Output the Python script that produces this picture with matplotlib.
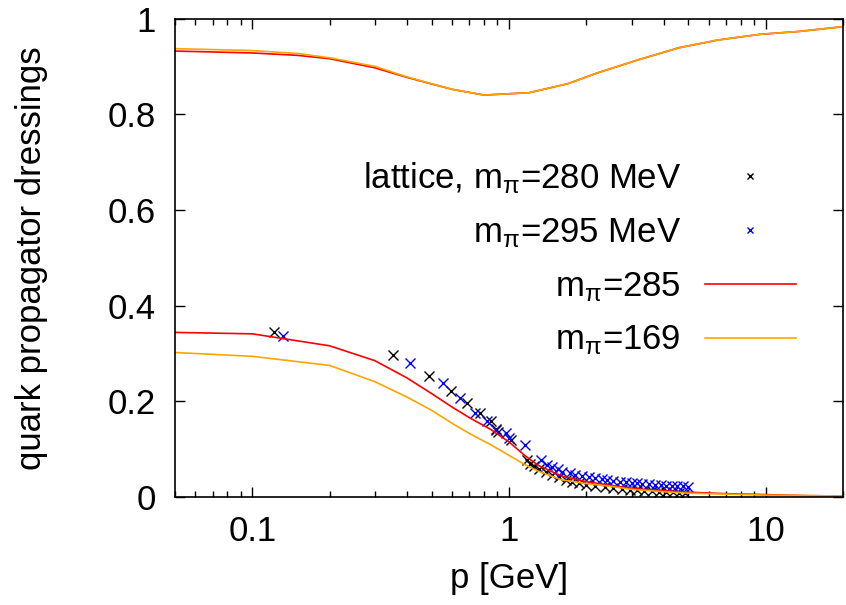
import numpy as np
import matplotlib
matplotlib.use('Agg')
import matplotlib.pyplot as plt
from matplotlib.ticker import LogLocator, FixedLocator, NullFormatter

# ---- data ----
# lattice data
p_lat280 = [0.121, 0.354, 0.489, 0.594, 0.683, 0.769, 0.849, 0.893, 0.909, 1.015,
            1.178, 1.203, 1.25, 1.31, 1.39, 1.47, 1.56, 1.66, 1.76, 1.87, 1.99,
            2.17, 2.37, 2.55, 2.75, 2.95, 3.15, 3.35, 3.6, 3.85, 4.1, 4.35, 4.6, 4.85]
z_lat280 = [0.344, 0.297, 0.253, 0.222, 0.196, 0.176, 0.158, 0.142, 0.135, 0.119,
            0.077, 0.069, 0.064, 0.058, 0.052, 0.046, 0.042, 0.036, 0.032, 0.029, 0.026,
            0.022, 0.020, 0.018, 0.016, 0.015, 0.014, 0.013, 0.012, 0.011, 0.010, 0.010, 0.009, 0.009]

p_lat295 = [0.132, 0.412, 0.552, 0.645, 0.74, 0.82, 0.89, 0.97, 1.0, 1.15, 1.33, 1.41,
            1.47, 1.55, 1.61, 1.72, 1.81, 1.93, 2.04, 2.17, 2.3, 2.41, 2.55, 2.7, 2.85,
            3.0, 3.15, 3.3, 3.5, 3.7, 3.9, 4.1, 4.3, 4.5, 4.75, 5.0]
z_lat295 = [0.337, 0.280, 0.238, 0.207, 0.176, 0.159, 0.141, 0.133, 0.124, 0.109, 0.078, 0.067,
            0.062, 0.058, 0.053, 0.0495, 0.046, 0.044, 0.0425, 0.039, 0.037, 0.036, 0.034, 0.032, 0.031,
            0.030, 0.029, 0.028, 0.027, 0.026, 0.025, 0.024, 0.023, 0.023, 0.022, 0.021]

# mass function (lower curves)
p_M = [0.05, 0.1, 0.2, 0.3, 0.4, 0.5, 0.6, 0.7, 0.85, 1.0, 1.15, 1.3, 1.6, 2.0, 2.5,
       3.0, 4.0, 5.0, 7.0, 10, 14, 20]
M_285 = [0.344, 0.341, 0.316, 0.285, 0.249, 0.216, 0.188, 0.166, 0.141, 0.115, 0.087, 0.066,
         0.044, 0.032, 0.024, 0.018, 0.013, 0.010, 0.007, 0.005, 0.003, 0.002]
M_169 = [0.302, 0.294, 0.275, 0.241, 0.209, 0.181, 0.154, 0.133, 0.109, 0.087, 0.068, 0.054,
         0.036, 0.028, 0.022, 0.016, 0.011, 0.008, 0.006, 0.004, 0.003, 0.002]

# wave function renormalisation (upper curves)
p_Z = [0.05, 0.1, 0.15, 0.2, 0.3, 0.4, 0.6, 0.8, 1.2, 1.7, 2.2, 3.2, 4.6, 6.5, 9.5, 13.5, 20]
Z_285 = [0.932, 0.928, 0.923, 0.916, 0.897, 0.877, 0.852, 0.840, 0.845, 0.864, 0.886,
         0.914, 0.939, 0.955, 0.967, 0.973, 0.983]
Z_169 = [0.937, 0.933, 0.927, 0.918, 0.900, 0.878, 0.852, 0.840, 0.845, 0.864, 0.886,
         0.914, 0.939, 0.955, 0.967, 0.973, 0.983]

plt.rcParams['font.family'] = ['Liberation Sans', 'DejaVu Sans']
plt.rcParams['mathtext.fontset'] = 'custom'
plt.rcParams['mathtext.rm'] = 'Liberation Sans'
plt.rcParams['mathtext.it'] = 'Liberation Sans'
FS = 25

fig = plt.figure(figsize=(8.46, 6.05), dpi=100)
ax = fig.add_axes([0.2069, 0.1785, 0.7896, 0.7909])

RED = '#ff0000'
ORANGE = '#ffa500'

ax.plot(p_lat280, z_lat280, ls='none', marker='x', ms=7, mew=1.0, color='black',
        label=r'lattice, m$_{\pi}$=280 MeV')
ax.plot(p_lat295, z_lat295, ls='none', marker='x', ms=7, mew=1.0, color='#0000ff',
        label=r'm$_{\pi}$=295 MeV')
ax.plot(p_M, M_285, color=RED, lw=1.2, label=r'm$_{\pi}$=285')
ax.plot(p_Z, Z_285, color=RED, lw=1.2)
ax.plot(p_M, M_169, color=ORANGE, lw=1.2, label=r'm$_{\pi}$=169')
ax.plot(p_Z, Z_169, color=ORANGE, lw=1.2)

ax.set_xscale('log')
ax.set_xlim(0.05, 20)
ax.set_ylim(0, 1)

ax.xaxis.set_major_locator(FixedLocator([0.1, 1, 10]))
ax.set_xticklabels(['0.1', '1', '10'])
ax.xaxis.set_minor_locator(LogLocator(base=10, subs=np.arange(2, 10)))
ax.xaxis.set_minor_formatter(NullFormatter())
ax.set_yticks([0, 0.2, 0.4, 0.6, 0.8, 1])
ax.set_yticklabels(['0', '0.2', '0.4', '0.6', '0.8', '1'])

ax.tick_params(which='both', direction='in', top=True, right=True, labelsize=FS, width=1.0)
ax.tick_params(which='major', length=7)
ax.tick_params(which='minor', length=4)
ax.tick_params(axis='x', which='major', pad=13)
ax.tick_params(axis='y', which='major', pad=14)
for s in ax.spines.values():
    s.set_linewidth(1.2)

ax.set_xlabel('p [GeV]', fontsize=FS, labelpad=10)
ax.set_ylabel('quark propagator dressings', fontsize=FS, labelpad=43)

leg = ax.legend(loc='upper right', bbox_to_anchor=(0.955, 0.74), frameon=False,
                fontsize=FS, markerfirst=False, handlelength=2.6, handletextpad=0.7,
                labelspacing=0.58, borderpad=0, markerscale=0.6)
for col in leg._legend_handle_box.get_children():
    col.align = 'right'

fig.savefig('out.png', dpi=100)
